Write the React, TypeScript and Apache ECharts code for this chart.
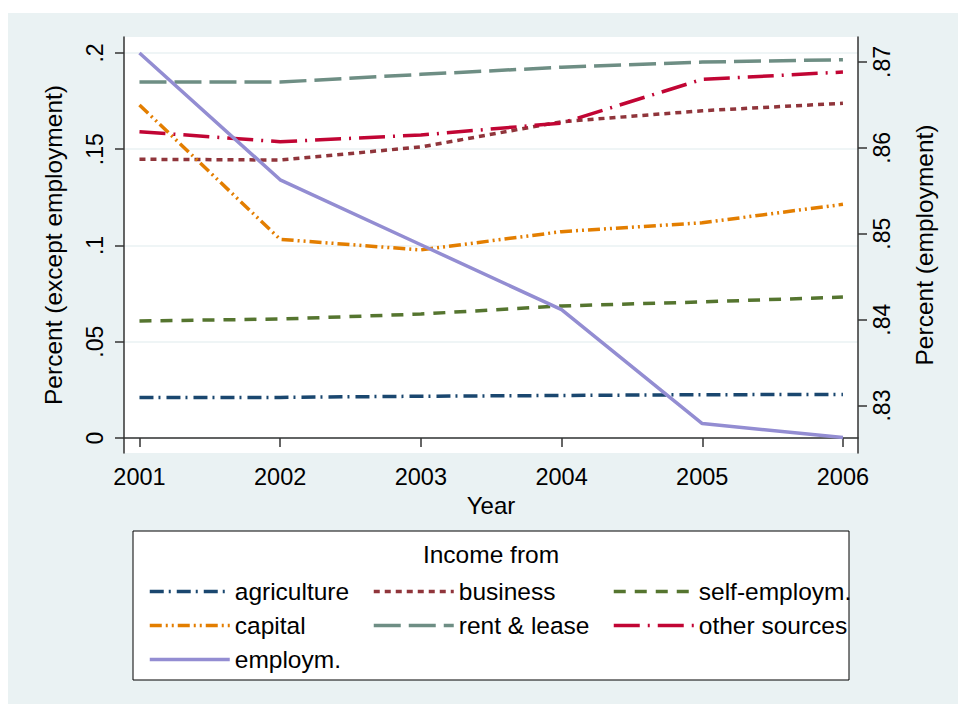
import React, { useEffect, useRef } from "react";
import * as echarts from "echarts";

const years = [2001, 2002, 2003, 2004, 2005, 2006];
const agriculture = [0.0211, 0.0211, 0.0217, 0.0221, 0.0225, 0.0226];
const business = [0.1448, 0.1444, 0.1512, 0.1643, 0.17, 0.1739];
const selfEmploym = [0.0608, 0.0618, 0.0644, 0.0686, 0.0707, 0.0732];
const capital = [0.173, 0.1032, 0.0977, 0.1072, 0.1118, 0.1214];
const rentLease = [0.1849, 0.1849, 0.1889, 0.1926, 0.1953, 0.1965];
const otherSources = [0.1591, 0.1539, 0.1574, 0.1636, 0.1863, 0.1901];
const employm = [0.87105, 0.85628, 0.84872, 0.84116, 0.8279, 0.82628];
const leftTicks = [0, 0.05, 0.1, 0.15, 0.2];
const rightTicks = [0.83, 0.84, 0.85, 0.86, 0.87];
const yearTicks = [2001, 2002, 2003, 2004, 2005, 2006];

const FONT = "Liberation Sans";
const AXIS_COLOR = "#333333";

const fmt = (v: number) => {
  if (Math.abs(v) < 1e-9) return "0";
  const s = String(Math.round(v * 100) / 100);
  return s.replace(/^0\./, ".");
};

const pairs = (vals: number[]) => years.map((y, i) => [y, vals[i]]);

export default function App() {
  const ref = useRef<HTMLDivElement>(null);
  useEffect(() => {
    if (!ref.current) return;
    const chart = echarts.init(ref.current, undefined, { renderer: "svg" });
    const mk = (name: string, data: number[], color: string, dash: any, yIdx = 0) => ({
      name,
      type: "line",
      yAxisIndex: yIdx,
      data: pairs(data),
      symbol: "none",
      showSymbol: false,
      lineStyle: { color, width: 3.5, type: dash, cap: "butt" },
      itemStyle: { color },
      z: 3,
    });
    const legendCommon = {
      orient: "vertical",
      itemWidth: 80,
      itemHeight: 14,
      itemGap: 9,
      selectedMode: false,
      itemStyle: { opacity: 0 },
      lineStyle: { width: 3.5 },
      textStyle: {
        fontFamily: FONT,
        fontSize: 24.5,
        color: "#000",
        lineHeight: 24,
      },
      z: 5,
    };
    chart.setOption({
      animation: false,
      backgroundColor: "#ffffff",
      textStyle: { fontFamily: FONT },
      graphic: [
        {
          type: "rect",
          z: -10,
          silent: true,
          shape: { x: 8, y: 13, width: 950, height: 691 },
          style: { fill: "#eaf2f3" },
        },
        {
          type: "rect",
          z: 1,
          silent: true,
          shape: { x: 133, y: 531, width: 716, height: 149 },
          style: { fill: "#ffffff", stroke: "#000000", lineWidth: 1 },
        },
        {
          type: "text",
          z: 5,
          x: 491,
          y: 554,
          style: {
            text: "Income from",
            fontFamily: FONT,
            fontSize: 24.5,
            fill: "#000",
            align: "center",
            verticalAlign: "middle",
          },
        },
      ],
      grid: {
        left: 124,
        top: 37,
        width: 734,
        height: 416,
        show: true,
        backgroundColor: "#ffffff",
        borderWidth: 0,
        containLabel: false,
        outerBoundsMode: "none",
      },
      xAxis: {
        type: "value",
        min: 2000.89,
        max: 2006.107,
        name: "Year",
        nameLocation: "middle",
        nameGap: 37,
        nameTextStyle: { fontFamily: FONT, fontSize: 24, color: "#000" },
        axisLine: { show: true, lineStyle: { color: AXIS_COLOR, width: 1.5 } },
        axisTick: { show: true, length: 9, lineStyle: { color: AXIS_COLOR, width: 1.5 }, customValues: yearTicks },
        axisLabel: {
          customValues: yearTicks,
          formatter: (v: number) => String(Math.round(v)),
          fontFamily: FONT,
          fontSize: 23.5,
          color: "#000",
          margin: 12,
        },
        splitLine: { show: false },
      },
      yAxis: [
        {
          type: "value",
          position: "left",
          min: -0.00779,
          max: 0.20831,
          name: "Percent (except employment)",
          nameLocation: "middle",
          nameRotate: 90,
          nameGap: 58,
          nameTextStyle: { fontFamily: FONT, fontSize: 24.5, color: "#000" },
          axisLine: { show: true, lineStyle: { color: AXIS_COLOR, width: 1.5 } },
          axisTick: { show: true, length: 9, lineStyle: { color: AXIS_COLOR, width: 1.5 }, customValues: leftTicks },
          axisLabel: {
            customValues: leftTicks,
            formatter: fmt,
            rotate: 90,
            fontFamily: FONT,
            fontSize: 23,
            color: "#000",
            margin: 18,
          },
          splitLine: { show: true, lineStyle: { color: "#eaf2f3", width: 1.5 } },
        },
        {
          type: "value",
          position: "right",
          min: 0.824477,
          max: 0.872907,
          name: "Percent (employment)",
          nameLocation: "middle",
          nameRotate: 90,
          nameGap: 54,
          nameTextStyle: { fontFamily: FONT, fontSize: 24.5, color: "#000" },
          axisLine: { show: true, lineStyle: { color: AXIS_COLOR, width: 1.5 } },
          axisTick: { show: true, length: 9, lineStyle: { color: AXIS_COLOR, width: 1.5 }, customValues: rightTicks },
          axisLabel: {
            customValues: rightTicks,
            formatter: fmt,
            rotate: 90,
            fontFamily: FONT,
            fontSize: 23,
            color: "#000",
            margin: 12,
          },
          splitLine: { show: false },
        },
      ],
      legend: [
        { ...legendCommon, left: 143, top: 574, data: ["agriculture", "capital", "employm."] },
        { ...legendCommon, left: 367, top: 574, data: ["business", "rent & lease"] },
        { ...legendCommon, left: 607, top: 574, data: ["self-employm.", "other sources"] },
      ],
      series: [
        mk("agriculture", agriculture, "#1a476f", [14, 5, 2, 6]),
        mk("business", business, "#90353b", [6, 5]),
        mk("self-employm.", selfEmploym, "#55752f", [12, 9]),
        mk("capital", capital, "#e37e00", [12, 4, 2, 4, 2, 4]),
        mk("rent & lease", rentLease, "#6e8e84", [27, 8]),
        mk("other sources", otherSources, "#c10534", [26, 8, 2, 8]),
        mk("employm.", employm, "#938dd2", "solid", 1),
      ],
    });
    return () => chart.dispose();
  }, []);
  return (
    <div
      ref={ref}
      style={{ position: "absolute", left: 0, top: 0, width: 958, height: 704 }}
    />
  );
}
